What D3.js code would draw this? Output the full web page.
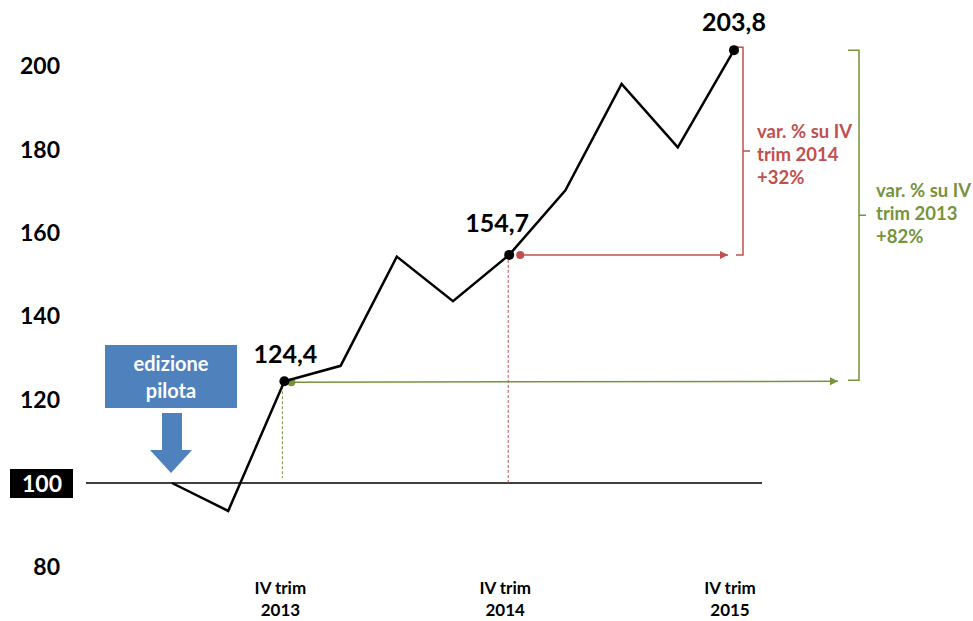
<!DOCTYPE html>
<html>
<head>
<meta charset="utf-8">
<script src="https://cdn.jsdelivr.net/npm/d3@7"></script>
<style>
body { margin: 0; background: #fff; }
svg text { font-family: Lato, "Open Sans", sans-serif; font-weight: bold; }
</style>
</head>
<body>
<svg width="973" height="621"></svg>
<script>
// quarterly index, IV trim 2012 = 100
var quarters = d3.range(11);
var values = [100, 93.3, 124.4, 128.1, 154.3, 143.6, 154.7, 170.2, 195.7, 180.5, 203.8];
var yTicks = [80, 100, 120, 140, 160, 180, 200];
var xLabels = [{i: 2, a: "IV trim", b: "2013"}, {i: 6, a: "IV trim", b: "2014"}, {i: 10, a: "IV trim", b: "2015"}];
var callouts = [{i: 2, text: "124,4"}, {i: 6, text: "154,7"}, {i: 10, text: "203,8"}];

var red = "#c0504d", green = "#77933c", blue = "#4f81bd";

var svg = d3.select("svg");

var x = d3.scaleLinear().domain([0, 10]).range([172, 734]);
var y = d3.scaleLinear().domain([100, 200]).range([483, 66]);

var defs = svg.append("defs");
[["arrRed", red], ["arrGreen", green]].forEach(function(m) {
  defs.append("marker").attr("id", m[0])
    .attr("viewBox", "0 0 10 10").attr("refX", 10).attr("refY", 5)
    .attr("markerWidth", 9).attr("markerHeight", 8).attr("markerUnits", "userSpaceOnUse")
    .attr("orient", "auto")
    .append("path").attr("d", "M0,0L10,5L0,10z").attr("fill", m[1]);
});

// y labels
svg.append("g").selectAll("text")
  .data(yTicks.filter(function(d) { return d !== 100; }))
  .enter().append("text")
  .attr("x", 60).attr("y", function(d) { return y(d); })
  .attr("dy", "0.36em").attr("text-anchor", "end")
  .attr("font-size", 23).text(function(d) { return d; });

svg.append("rect").attr("x", 10).attr("y", y(100) - 14).attr("width", 63).attr("height", 29).attr("fill", "#000");
svg.append("text").attr("x", 62).attr("y", y(100) + 1).attr("dy", "0.36em")
  .attr("text-anchor", "end").attr("font-size", 23).attr("fill", "#fff").text("100");

// baseline
svg.append("line").attr("x1", 86).attr("x2", 762).attr("y1", y(100)).attr("y2", y(100))
  .attr("stroke", "#000").attr("stroke-width", 1.4);

// x labels
var xl = svg.append("g").selectAll("g").data(xLabels).enter().append("g");
xl.append("text").attr("x", function(d) { return x(d.i) - 4; }).attr("y", 594)
  .attr("text-anchor", "middle").attr("font-size", 17).text(function(d) { return d.a; });
xl.append("text").attr("x", function(d) { return x(d.i) - 4; }).attr("y", 616)
  .attr("text-anchor", "middle").attr("font-size", 17).text(function(d) { return d.b; });

// dashed verticals
svg.append("line").attr("x1", x(2) - 2).attr("x2", x(2) - 2).attr("y1", y(values[2])).attr("y2", 478)
  .attr("stroke", green).attr("stroke-dasharray", "3,2").attr("stroke-width", 1);
svg.append("line").attr("x1", x(6) - 1).attr("x2", x(6) - 1).attr("y1", y(values[6])).attr("y2", y(100))
  .attr("stroke", red).attr("stroke-dasharray", "3,2").attr("stroke-width", 1);

// comparison arrows
svg.append("line").attr("x1", x(2) + 7).attr("x2", 838).attr("y1", y(values[2]) + 1).attr("y2", y(values[2]))
  .attr("stroke", green).attr("stroke-width", 1.5).attr("marker-end", "url(#arrGreen)");
svg.append("circle").attr("cx", x(2) + 7).attr("cy", y(values[2]) + 1).attr("r", 4).attr("fill", green);
svg.append("line").attr("x1", x(6) + 11).attr("x2", 728).attr("y1", y(values[6])).attr("y2", y(values[6]))
  .attr("stroke", red).attr("stroke-width", 1.5).attr("marker-end", "url(#arrRed)");
svg.append("circle").attr("cx", x(6) + 11).attr("cy", y(values[6])).attr("r", 4).attr("fill", red);

// brackets
function bracket(xv, x0, y0, y1, col) {
  var ym = (y0 + y1) / 2;
  svg.append("path")
    .attr("d", "M" + x0 + "," + y0 + "H" + xv + "V" + y1 + "H" + x0 + "M" + xv + "," + ym + "h7")
    .attr("fill", "none").attr("stroke", col).attr("stroke-width", 1.5);
}
bracket(743, 736, y(values[10]) - 3, y(values[6]), red);
bracket(859, 848, y(values[10]), y(values[2]) - 1, green);

function note(lines, xp, y0, col) {
  svg.append("g").selectAll("text").data(lines).enter().append("text")
    .attr("x", xp).attr("y", function(d, i) { return y0 + i * 23; })
    .attr("dy", "0.35em").attr("font-size", 18.5).attr("fill", col)
    .text(function(d) { return d; });
}
note(["var. % su IV", "trim 2014", "+32%"], 757, 132, red);
note(["var. % su IV", "trim 2013", "+82%"], 876, 191, green);

// main line
svg.append("path").datum(quarters)
  .attr("d", d3.line().x(function(i) { return x(i); }).y(function(i) { return y(values[i]); }))
  .attr("fill", "none").attr("stroke", "#000").attr("stroke-width", 2.5).attr("stroke-linejoin", "miter");

svg.append("g").selectAll("circle").data(callouts).enter().append("circle")
  .attr("cx", function(d) { return x(d.i); }).attr("cy", function(d) { return y(values[d.i]); })
  .attr("r", 5).attr("fill", "#000");

var offs = {2: [1, -27], 6: [-12, -32], 10: [0, -28]};
svg.append("g").selectAll("text").data(callouts).enter().append("text")
  .attr("x", function(d) { return x(d.i) + offs[d.i][0]; })
  .attr("y", function(d) { return y(values[d.i]) + offs[d.i][1]; })
  .attr("dy", "0.35em").attr("text-anchor", "middle").attr("font-size", 25)
  .text(function(d) { return d.text; });

// "edizione pilota" box and arrow
svg.append("rect").attr("x", 105).attr("y", 345).attr("width", 132).attr("height", 63).attr("fill", blue);
svg.append("text").attr("x", 171).attr("y", 364).attr("dy", "0.35em").attr("text-anchor", "middle")
  .attr("font-size", 20).attr("fill", "#fff").text("edizione");
svg.append("text").attr("x", 171).attr("y", 391).attr("dy", "0.35em").attr("text-anchor", "middle")
  .attr("font-size", 20).attr("fill", "#fff").text("pilota");
svg.append("path").attr("d", "M162,413H182V450H192L171,473L150,450H162Z").attr("fill", blue);
</script>
</body>
</html>
